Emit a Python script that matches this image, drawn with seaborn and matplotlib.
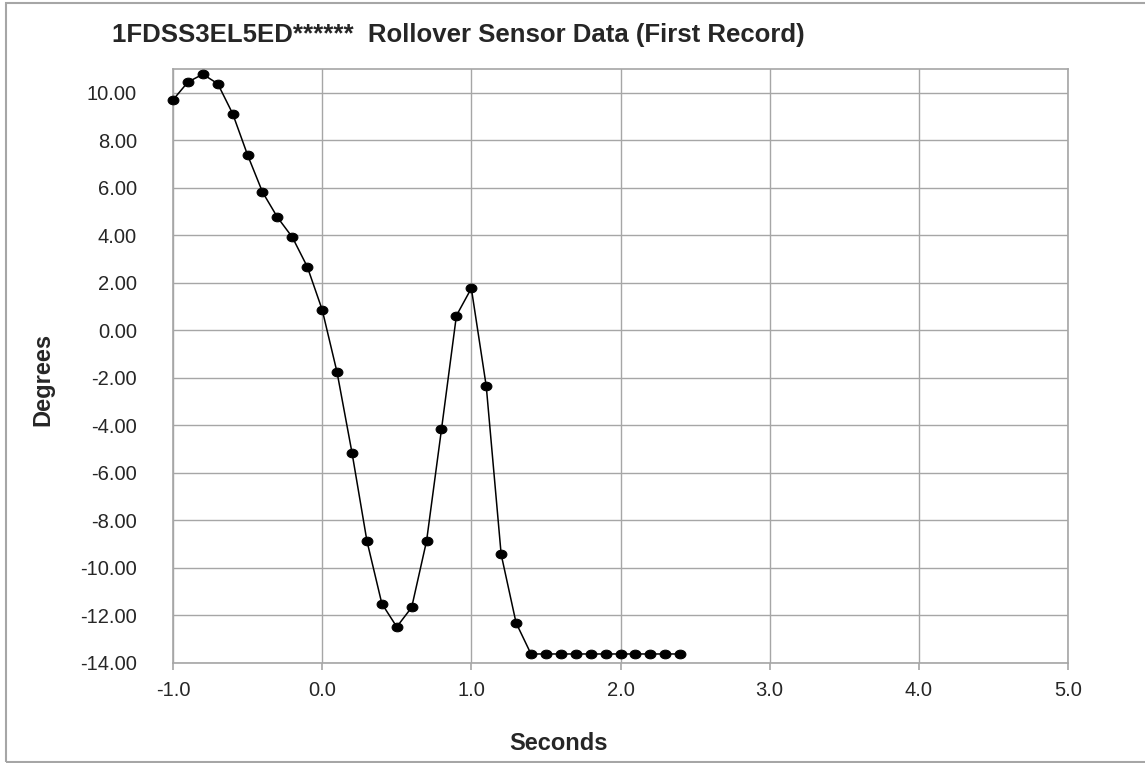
import matplotlib
matplotlib.use("Agg")
import matplotlib.pyplot as plt
from matplotlib.patches import Rectangle
from matplotlib.path import Path
from matplotlib.transforms import Affine2D
from matplotlib.ticker import FormatStrFormatter
import pandas as pd
import seaborn as sns

# data
seconds = [-1.0, -0.9, -0.8, -0.7, -0.6, -0.5, -0.4, -0.3, -0.2, -0.1,
           0.0, 0.1, 0.2, 0.3, 0.4, 0.5, 0.6, 0.7, 0.8, 0.9,
           1.0, 1.1, 1.2, 1.3, 1.4, 1.5, 1.6, 1.7, 1.8, 1.9,
           2.0, 2.1, 2.2, 2.3, 2.4]
degrees = [9.70, 10.45, 10.78, 10.38, 9.12, 7.38, 5.82, 4.76, 3.92, 2.68,
           0.87, -1.77, -5.15, -8.86, -11.50, -12.48, -11.66, -8.86, -4.16, 0.62,
           1.77, -2.35, -9.43, -12.31, -13.62, -13.62, -13.62, -13.62, -13.62, -13.62,
           -13.62, -13.62, -13.62, -13.62, -13.62]
x_ticks = [-1.0, 0.0, 1.0, 2.0, 3.0, 4.0, 5.0]
y_ticks = [-14, -12, -10, -8, -6, -4, -2, 0, 2, 4, 6, 8, 10]

title = "1FDSS3EL5ED******  Rollover Sensor Data (First Record)"
grid_col = "#a6a6a6"

df = pd.DataFrame({"Seconds": seconds, "Degrees": degrees})

# the reference markers are slightly wide ellipses
ellipse = Path.unit_circle().transformed(Affine2D().scale(1.25, 1.0))

sns.set_style("white")
plt.rcParams["font.family"] = ["Liberation Sans", "DejaVu Sans"]

W, H = 1145, 763
fig = plt.figure(figsize=(W / 100, H / 100), dpi=100)
# plot area in pixels: left 173, right 1068, top 69, bottom 663
ax = fig.add_axes([173 / W, 1 - 663 / H, (1068 - 173) / W, (663 - 69) / H])

sns.lineplot(data=df, x="Seconds", y="Degrees", ax=ax, color="black",
             linewidth=1.1, marker=ellipse, markersize=7.8,
             markeredgecolor="black", markerfacecolor="black",
             zorder=3, clip_on=False)

ax.set_xlim(-1.0, 5.0)
ax.set_ylim(-14.0, 11.0)
ax.set_xticks(x_ticks)
ax.set_yticks(y_ticks)
ax.xaxis.set_major_formatter(FormatStrFormatter("%.1f"))
ax.yaxis.set_major_formatter(FormatStrFormatter("%.2f"))
ax.grid(True, color=grid_col, linewidth=1.0)
ax.set_axisbelow(True)
for s in ax.spines.values():
    s.set_color(grid_col)
    s.set_linewidth(1.2)
ax.tick_params(axis="x", length=5, width=1.2, color=grid_col, pad=8,
               labelsize=14.5, direction="out", bottom=True)
ax.tick_params(axis="y", length=0, pad=26, labelsize=14.5)
ax.set_xlabel("")
ax.set_ylabel("")

# titles and axis labels placed like the reference
fig.text(112 / W, 1 - 42 / H, title, fontsize=18.5, fontweight="bold",
         ha="left", va="baseline")
fig.text(559 / W, 1 - 743 / H, "Seconds", fontsize=17, fontweight="bold",
         ha="center", va="center")
fig.text(43 / W, 1 - 379 / H, "Degrees", fontsize=17, fontweight="bold",
         ha="center", va="center", rotation=90)

# chart area border
fig.patches.append(Rectangle((6 / W, 1 / H), 1.0, 1 - 4 / H,
                             transform=fig.transFigure, fill=False,
                             edgecolor=grid_col, linewidth=1.5))

fig.savefig("out.png", dpi=100)
